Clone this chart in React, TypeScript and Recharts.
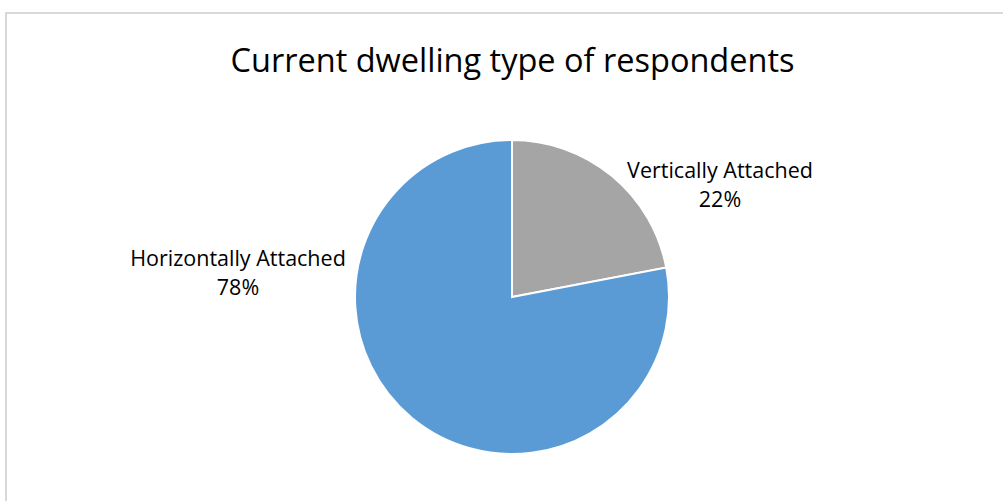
import { PieChart, Pie, Cell } from "recharts";

const categories = ["Vertically Attached", "Horizontally Attached"];
const shares = [22, 78];
const colors = ["#A5A5A5", "#5B9BD5"];

// label block centres, relative to the pie centre (Excel "best fit" spots)
const labelOffsets = [
  { dx: 208, dy: -113 },
  { dx: -274, dy: -25 },
];

const data = categories.map((name, i) => ({ name, value: shares[i] }));

const FONT = "'Open Sans', Lato, sans-serif";

function renderLabel(props: any) {
  const { cx, cy, index, name, value } = props;
  const off = labelOffsets[index];
  const x = cx + off.dx;
  const y = cy + off.dy;
  return (
    <text
      x={x}
      y={y}
      textAnchor="middle"
      fill="#000"
      fontSize={21.5}
      fontFamily={FONT}
    >
      <tspan x={x} dy={-6}>{name}</tspan>
      <tspan x={x} dy={29}>{`${value}%`}</tspan>
    </text>
  );
}

export default function App() {
  return (
    <div
      style={{
        position: "fixed",
        left: 0,
        top: 0,
        width: 1003,
        height: 501,
        overflow: "hidden",
        background: "#fff",
      }}
    >
      <div
        style={{
          position: "absolute",
          left: 5,
          top: 12,
          width: 1020,
          height: 520,
          border: "2px solid #D9D9D9",
          boxSizing: "border-box",
        }}
      />
      <div
        style={{
          position: "absolute",
          left: 0,
          top: 37,
          width: 1025,
          textAlign: "center",
          fontFamily: FONT,
          fontSize: 32.5,
          color: "#000",
        }}
      >
        Current dwelling type of respondents
      </div>
      <div style={{ position: "absolute", left: 0, top: 0 }}>
        <PieChart width={1003} height={501} margin={{ top: 0, right: 0, bottom: 0, left: 0 }}>
          <Pie
            data={data}
            dataKey="value"
            nameKey="name"
            cx={512}
            cy={297}
            outerRadius={157}
            startAngle={90}
            endAngle={-270}
            stroke="#fff"
            strokeWidth={2}
            labelLine={false}
            label={renderLabel}
            isAnimationActive={false}
          >
            {data.map((d, i) => (
              <Cell key={d.name} fill={colors[i]} />
            ))}
          </Pie>
        </PieChart>
      </div>
    </div>
  );
}
